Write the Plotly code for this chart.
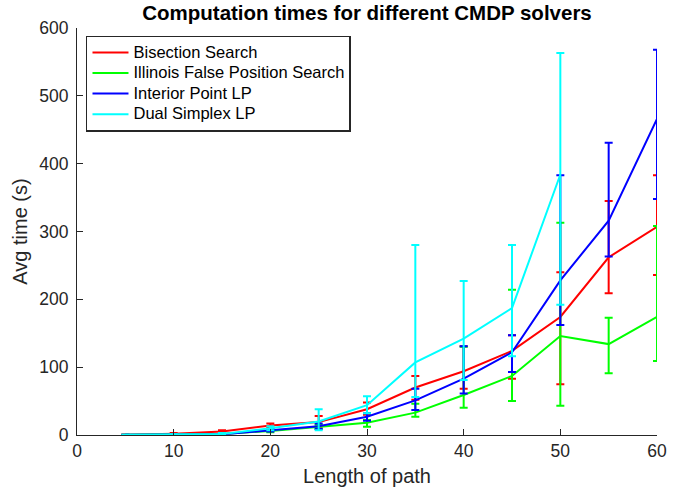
import plotly.graph_objects as go

path_length = [5, 10, 15, 20, 25, 30, 35, 40, 45, 50, 55, 60]

bisection_mean = [0.5, 2, 5, 14, 19, 38, 70, 94, 124, 174, 262, 307]
bisection_upper = [0.8, 3, 7, 17, 28, 48, 87, 131, 147, 240, 345, 383]
bisection_lower = [0.2, 1, 3, 11, 12, 30, 52, 68, 83, 75, 209, 236]

illinois_mean = [0.3, 0.5, 1.5, 6, 12, 18, 33, 59, 87, 146, 134, 174]
illinois_upper = [0.5, 1, 2.5, 8, 15, 22, 46, 130, 214, 313, 173, 308]
illinois_lower = [0.1, 0.2, 0.5, 4, 9, 12, 27, 40, 50, 43, 91, 109]

interior_mean = [0.3, 0.5, 1, 7, 13, 27, 51, 83, 122, 228, 316, 466]
interior_upper = [0.5, 1, 2, 9, 17, 32, 68, 131, 147, 383, 431, 568]
interior_lower = [0.1, 0.2, 0.5, 5, 9, 21, 37, 61, 93, 162, 263, 348]

simplex_length = [5, 10, 15, 20, 25, 30, 35, 40, 45, 50]
simplex_mean = [0.3, 0.5, 1.5, 10, 20, 44, 107, 142, 187, 384]
simplex_upper = [0.5, 1, 3, 13, 38, 57, 280, 227, 280, 563]
simplex_lower = [0.1, 0.2, 0.5, 7, 7, 32, 56, 81, 116, 192]

series = [
    ("Bisection Search", path_length, bisection_mean, bisection_upper, bisection_lower, "#ff0000"),
    ("Illinois False Position Search", path_length, illinois_mean, illinois_upper, illinois_lower, "#00ff00"),
    ("Interior Point LP", path_length, interior_mean, interior_upper, interior_lower, "#0000ff"),
    ("Dual Simplex LP", simplex_length, simplex_mean, simplex_upper, simplex_lower, "#00ffff"),
]

fig = go.Figure()
for name, xs, mean, up, lo, color in series:
    plus = [u - m for u, m in zip(up, mean)]
    minus = [m - l for m, l in zip(mean, lo)]
    fig.add_trace(go.Scatter(
        x=xs, y=mean, mode="lines",
        name='<span style="font-size:16.5px">' + name + "</span>",
        line=dict(color=color, width=2),
        error_y=dict(type="data", symmetric=False, array=plus, arrayminus=minus,
                     color=color, thickness=2, width=4),
    ))

font_family = "Liberation Sans, Arial, Helvetica, sans-serif"
axis_color = "#262626"

fig.update_layout(
    width=680, height=491,
    margin=dict(l=77, r=23, t=28, b=56),
    paper_bgcolor="white", plot_bgcolor="white",
    font=dict(family=font_family, color=axis_color, size=17),
    title=dict(text="<b>Computation times for different CMDP solvers</b>",
               x=0.5, xanchor="center", xref="paper", y=0.973, yanchor="middle",
               font=dict(size=20.5, color="black")),
    showlegend=True,
    legend=dict(x=0.0155, y=0.981, xanchor="left", yanchor="top",
                bgcolor="white", bordercolor=axis_color, borderwidth=1.5,
                font=dict(size=13.5, color="black"),
                tracegroupgap=0, itemwidth=36),
    xaxis=dict(range=[0, 60], tickvals=[0, 10, 20, 30, 40, 50, 60],
               showgrid=False, zeroline=False, showline=True, linecolor=axis_color,
               linewidth=1, ticks="inside", ticklen=6, tickcolor=axis_color,
               automargin=False,
               title=dict(text="Length of path", font=dict(size=20), standoff=8),
               tickfont=dict(size=17.5)),
    yaxis=dict(range=[0, 600], tickvals=[0, 100, 200, 300, 400, 500, 600],
               showgrid=False, zeroline=False, showline=True, linecolor=axis_color,
               linewidth=1, ticks="inside", ticklen=6, tickcolor=axis_color,
               automargin=False, ticklabelstandoff=4,
               title=dict(text="Avg time (s)", font=dict(size=20), standoff=6),
               tickfont=dict(size=17.5)),
)

fig.write_html("out.html", config={"displayModeBar": False},
               post_script="document.body.style.margin='0';")
